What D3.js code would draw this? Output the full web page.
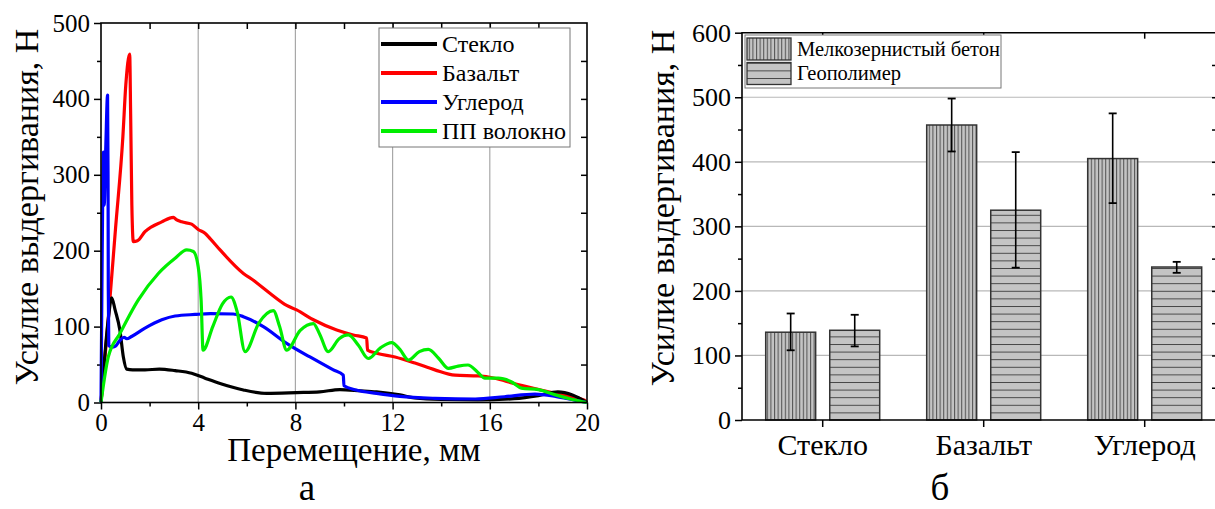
<!DOCTYPE html>
<html><head><meta charset="utf-8">
<script src="https://cdn.jsdelivr.net/npm/d3@7"></script>
<style>body{margin:0;background:#fff}svg{display:block}</style>
</head><body>
<svg id="c" width="1215" height="509"></svg>
<script>
// ---- Data: panel а (pull-out curves), [displacement mm, force N]
const seriesNames = ["Стекло","Базальт","Углерод","ПП волокно"];
const seriesColors = ["#000000","#ff0000","#0000ff","#00ee00"];
const glass = [[0,0],[0.1,40],[0.3,110],[0.44,138],[0.58,122],[0.78,95],[0.92,60],[1.06,44],[1.3,43],[1.81,43],[2.4,44],[3.05,42],[3.73,38.5],[4.28,32],[4.9,25],[5.86,16.5],[6.82,12],[8.05,13],[9.0,14],[9.83,17],[10.66,15.5],[11.34,14],[12.3,10],[12.9,6],[14,4],[15.5,3.5],[17,5],[18,9],[18.8,14],[19.4,10],[20,0]];
const basalt = [[0,0],[0.3,110],[0.6,230],[0.9,350],[1.02,418],[1.18,459],[1.22,380],[1.27,260],[1.33,212],[1.5,213],[1.81,225],[2.5,238],[2.98,244],[3.1,241],[3.32,238],[3.73,235],[4.0,228],[4.28,223],[4.49,216],[4.9,201],[5.86,170],[6.27,161],[6.95,144],[7.64,128],[8.05,122],[8.74,109],[9.7,95.5],[10.38,89],[10.93,85],[10.97,69],[11.34,65],[12.1,60],[12.92,52],[13.74,43],[14.57,36],[15.53,35],[16.2,32],[17.0,25],[18.1,16.5],[18.96,10],[19.9,3],[20,0]];
const carbon = [[0,0],[0.05,200],[0.1,330],[0.13,260],[0.2,340],[0.27,405],[0.29,300],[0.3,150],[0.32,75],[0.45,73],[0.58,74],[0.78,82],[0.95,86],[1.06,84],[1.26,87],[1.81,98],[2.5,109],[3.05,114],[3.87,116],[4.5,117],[5.44,116.6],[5.86,113],[6.68,100],[7.64,78],[8.6,60],[9.56,43],[9.97,36],[10.0,22],[10.5,16.5],[11.34,12],[12.3,8],[13.74,5.5],[15.4,4.6],[16.6,7.6],[17.86,11],[18.7,8],[19.5,3],[20,0]];
const ppFiber = [[0,0],[0.3,60],[0.78,91],[1.53,135],[2.36,170],[3.05,190],[3.53,201],[3.8,199],[4.0,179],[4.12,135],[4.2,69],[4.6,100],[5.0,130],[5.35,139],[5.6,120],[5.93,67],[6.5,105],[7.09,121],[7.35,100],[7.64,69],[8.2,95],[8.74,104],[9.0,90],[9.35,67],[9.8,84],[10.18,89],[10.6,75],[11.0,58],[11.5,72],[11.96,79],[12.3,70],[12.65,56],[13.1,67],[13.47,70],[13.9,58],[14.3,45],[14.7,48],[15.1,49.4],[15.5,40],[15.8,32],[16.35,32],[16.9,27],[17.3,19],[18.0,17],[18.7,10],[19.4,4],[20,0]];
const xTicksA = [0,4,8,12,16,20];
const yTicksA = [0,100,200,300,400,500];

// ---- Data: panel б (bars)
const categories = ["Стекло","Базальт","Углерод"];
const matrixNames = ["Мелкозернистый бетон","Геополимер"];
const fineConcrete = [136,457,405];
const fineConcreteLo = [108,416,336];
const fineConcreteHi = [165,498,475];
const geopolymer = [139,325,237];
const geopolymerLo = [114,236,228];
const geopolymerHi = [163,415,245];
const yTicksB = [0,100,200,300,400,500,600];

const FONT = "'Liberation Serif','Times New Roman',serif";
const svg = d3.select("#c");
svg.append("rect").attr("width",1215).attr("height",509).attr("fill","#fff");

// ================= Panel а =================
const xA = d3.scaleLinear().domain([0,20]).range([101,587]);
const yA = d3.scaleLinear().domain([0,500]).range([402.5,23]);
const gA = svg.append("g");
gA.selectAll("line.grid").data([4,8,12,16]).join("line")
  .attr("x1",d=>xA(d)).attr("x2",d=>xA(d)).attr("y1",yA(0)).attr("y2",yA(500))
  .attr("stroke","#a8a8a8").attr("stroke-width",1.2);

function styleAxis(g){ g.attr("font-family",FONT); g.select(".domain").remove(); g.selectAll("line").attr("stroke","#000").attr("stroke-width",1.5); g.selectAll("text").attr("font-size",25).attr("fill","#000").attr("font-family",FONT); }
gA.append("g").attr("transform",`translate(0,${yA(0)})`).call(d3.axisBottom(xA).tickValues(xTicksA).tickSize(7).tickPadding(4).tickFormat(d3.format("d"))).call(styleAxis);
gA.append("g").attr("transform",`translate(0,${yA(0)})`).call(d3.axisBottom(xA).tickValues([2,6,10,14,18]).tickSize(4).tickFormat("")).call(styleAxis);
gA.append("g").attr("transform",`translate(${xA(0)},0)`).call(d3.axisLeft(yA).tickValues(yTicksA).tickSize(7).tickPadding(4)).call(styleAxis);
gA.append("g").attr("transform",`translate(${xA(0)},0)`).call(d3.axisLeft(yA).tickValues([50,150,250,350,450]).tickSize(4).tickFormat("")).call(styleAxis);
gA.append("g").attr("transform",`translate(0,${yA(500)})`).call(d3.axisBottom(xA).tickValues(d3.range(2,20,2)).tickSize(6).tickFormat("")).call(styleAxis);
gA.append("g").attr("transform",`translate(${xA(20)},0)`).call(d3.axisLeft(yA).tickValues(d3.range(50,500,50)).tickSize(6).tickFormat("")).call(styleAxis);

const lineA = d3.line().x(d=>xA(d[0])).y(d=>yA(d[1])).curve(d3.curveMonotoneX);
const seriesData = [glass,basalt,carbon,ppFiber];
[1,0,2,3].forEach(i=>{
  gA.append("path").datum(seriesData[i]).attr("d",lineA).attr("fill","none")
    .attr("stroke",seriesColors[i]).attr("stroke-width",3.2).attr("stroke-linejoin","round");
});
gA.append("rect").attr("x",xA(0)).attr("y",yA(500)).attr("width",xA(20)-xA(0)).attr("height",yA(0)-yA(500))
  .attr("fill","none").attr("stroke","#000").attr("stroke-width",1.6);

const legA = gA.append("g");
legA.append("rect").attr("x",379).attr("y",28).attr("width",191).attr("height",119).attr("fill","#fff").attr("stroke","#777").attr("stroke-width",1);
seriesNames.forEach((n,i)=>{
  const yy = 44 + i*29;
  legA.append("line").attr("x1",381).attr("x2",437).attr("y1",yy).attr("y2",yy).attr("stroke",seriesColors[i]).attr("stroke-width",4);
  legA.append("text").attr("x",442).attr("y",yy).attr("dy","0.33em").attr("font-size",24).attr("font-family",FONT).text(n);
});
gA.append("text").attr("x",354).attr("y",461).attr("text-anchor","middle").attr("font-size",33).attr("font-family",FONT).text("Перемещение, мм");
gA.append("text").attr("transform","translate(38,207) rotate(-90)").attr("text-anchor","middle").attr("font-size",34).attr("font-family",FONT).text("Усилие выдергивания, Н");
gA.append("text").attr("x",307).attr("y",500).attr("text-anchor","middle").attr("font-size",37).attr("font-family",FONT).text("а");

// ================= Panel б =================
const defs = svg.append("defs");
const pv = defs.append("pattern").attr("id","hv").attr("patternUnits","userSpaceOnUse").attr("width",3.6).attr("height",10);
pv.append("rect").attr("width",3.6).attr("height",10).attr("fill","#c4c4c4");
pv.append("line").attr("x1",0.6).attr("x2",0.6).attr("y1",0).attr("y2",10).attr("stroke","#3a3a3a").attr("stroke-width",0.9);
const ph = defs.append("pattern").attr("id","hh").attr("patternUnits","userSpaceOnUse").attr("width",10).attr("height",7.6).attr("y",420);
ph.append("rect").attr("width",10).attr("height",7.6).attr("fill","#c4c4c4");
ph.append("line").attr("x1",0).attr("x2",10).attr("y1",0.5).attr("y2",0.5).attr("stroke","#3a3a3a").attr("stroke-width",0.9);
const fills = ["url(#hv)","url(#hh)"];

const xB = d3.scaleBand().domain(categories).range([742.2,742.2+3*161]).padding(0);
const xSub = d3.scaleBand().domain([0,1]).range([23.5,137.5]).paddingInner(0.22).paddingOuter(0);
const yB = d3.scaleLinear().domain([0,600]).range([420,32.7]);
const left = 742, right = 1218;
const gB = svg.append("g");
gB.selectAll("line.g").data([100,200,300,400,500]).join("line")
  .attr("x1",left).attr("x2",right).attr("y1",d=>yB(d)).attr("y2",d=>yB(d)).attr("stroke","#b8b8b8").attr("stroke-width",1.2);

gB.append("g").attr("transform",`translate(${left},0)`).call(d3.axisLeft(yB).tickValues(yTicksB).tickSize(7).tickPadding(4)).call(g=>{styleAxis(g);g.selectAll("text").attr("font-size",26);});
gB.append("g").attr("transform",`translate(${left},0)`).call(d3.axisLeft(yB).tickValues(d3.range(50,600,100)).tickSize(4).tickFormat("")).call(styleAxis);
gB.append("g").attr("transform",`translate(${right},0)`).call(d3.axisLeft(yB).tickValues(d3.range(50,600,50)).tickSize(6).tickFormat("")).call(styleAxis);

const bars = [
  {vals:fineConcrete, lo:fineConcreteLo, hi:fineConcreteHi},
  {vals:geopolymer, lo:geopolymerLo, hi:geopolymerHi}
];
bars.forEach((s,si)=>{
  categories.forEach((c,ci)=>{
    const x0 = xB(c)+xSub(si), w = xSub.bandwidth();
    gB.append("rect").attr("x",x0).attr("y",yB(s.vals[ci])).attr("width",w).attr("height",yB(0)-yB(s.vals[ci]))
      .attr("fill",fills[si]).attr("stroke","#333").attr("stroke-width",1.5);
    const cx = x0+w/2;
    gB.append("line").attr("x1",cx).attr("x2",cx).attr("y1",yB(s.hi[ci])).attr("y2",yB(s.lo[ci])).attr("stroke","#000").attr("stroke-width",1.6);
    [s.hi[ci],s.lo[ci]].forEach(v=>gB.append("line").attr("x1",cx-4).attr("x2",cx+4).attr("y1",yB(v)).attr("y2",yB(v)).attr("stroke","#000").attr("stroke-width",1.8));
  });
});

gB.append("g").attr("transform",`translate(0,${yB(0)})`).call(d3.axisBottom(xB).tickSize(7).tickPadding(7)).call(g=>{styleAxis(g);g.selectAll("text").attr("font-size",30);});
gB.append("g").attr("transform",`translate(0,${yB(600)})`).call(d3.axisBottom(xB).tickSize(6).tickFormat("")).call(styleAxis);
gB.append("path").attr("d",`M${right},${yB(0)}H${left}V${yB(600)}H${right}`).attr("fill","none").attr("stroke","#000").attr("stroke-width",1.6);
gB.append("line").attr("x1",right).attr("x2",right).attr("y1",yB(0)).attr("y2",yB(600)).attr("stroke","#000").attr("stroke-width",1.6);

const legB = gB.append("g");
legB.append("rect").attr("x",745).attr("y",35).attr("width",256).attr("height",53).attr("fill","#fff").attr("stroke","#777").attr("stroke-width",1);
matrixNames.forEach((n,i)=>{
  const y0 = 38 + i*24.5;
  legB.append("rect").attr("x",747).attr("y",y0).attr("width",44).attr("height",22).attr("fill",fills[i]).attr("stroke","#333").attr("stroke-width",1.3);
  legB.append("text").attr("x",797).attr("y",y0+11).attr("dy","0.33em").attr("font-size",20.5).attr("font-family",FONT).text(n);
});
gB.append("text").attr("transform","translate(674,208) rotate(-90)").attr("text-anchor","middle").attr("font-size",34).attr("font-family",FONT).text("Усилие выдергивания, Н");
gB.append("text").attr("x",940).attr("y",500).attr("text-anchor","middle").attr("font-size",37).attr("font-family",FONT).text("б");
</script>
</body></html>
